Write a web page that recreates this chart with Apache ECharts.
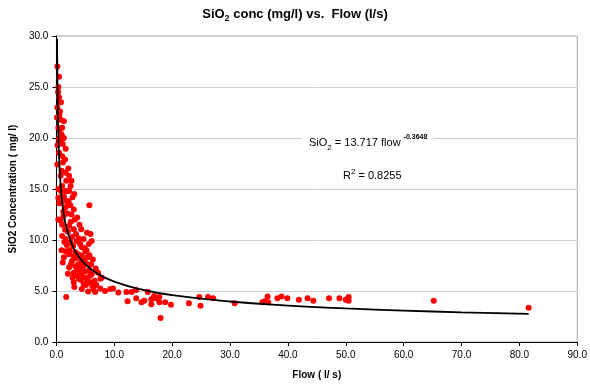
<!DOCTYPE html>
<html>
<head>
<meta charset="utf-8">
<script src="https://cdn.jsdelivr.net/npm/echarts@6/dist/echarts.min.js"></script>
<style>
html,body{margin:0;padding:0;background:#fff;}
#c{width:590px;height:385px;}
</style>
</head>
<body>
<div id="c"></div>
<script>
// Observed samples: flow (l/s) and SiO2 concentration (mg/l)
var flowValues = [
  0.17,0.46,0.34,0.46,0.17,0.63,0.1,0.74,1.3,0.34,1.0,0.9,1.3,0.74,1.6,0.46,1.0,0.17,1.14,2.05,
  1.6,0.74,2.2,1.7,2.45,1.0,1.9,0.34,1.3,0.34,0.74,1.6,2.2,1.9,1.6,3.0,5.7,0.34,0.74,1.0,
  2.2,3.6,3.0,4.3,5.3,5.9,1.0,1.6,3.9,4.7,6.1,5.6,4.1,2.45,1.6,2.2,3.3,4.4,1.3,5.0,
  6.0,2.7,3.75,4.7,2.2,3.0,4.1,5.6,6.1,7.6,5.0,3.9,3.0,4.7,5.85,4.4,6.4,6.7,7.6,7.85,
  1.7,2.6,3.4,2.0,4.9,5.4,3.6,4.3,5.2,2.9,6.3,4.5,5.4,6.6,3.4,1.9,2.8,2.4,1.2,0.5,
  0.2,0.6,0.5,0.85,1.0,
  1.2,2.5,3.2,4.0,1.5,2.7,3.5,4.4,5.2,1.8,2.3,3.0,3.8,4.8,5.7,2.5,3.3,4.0,4.9,5.8,
  2.0,3.5,4.2,5.1,6.2,6.9,2.8,1.4,0.9,1.1,6.8,7.2,3.1,5.5,8.4,1.5,2.1,0.9,1.5,0.4,
  1.1,0.8,0.3,2.6,3.1,
  9.3,9.8,10.7,12.1,13.0,13.8,15.8,12.3,13.8,14.7,15.2,16.4,16.9,17.2,17.8,16.4,17.8,18.8,19.8,18.0,
  22.9,24.7,24.9,26.2,27.1,30.8,35.6,36.0,36.5,36.6,38.2,38.9,39.9,41.9,43.4,44.4,47.1,48.9,50.0,50.5,
  50.5,50.2,65.2,81.6
];
var sio2Values = [
  27.0,26.0,25.0,24.0,23.0,22.6,22.0,21.8,21.65,21.0,21.0,20.35,20.0,19.7,18.95,18.56,18.2,17.4,17.6,17.0,
  16.6,16.3,16.3,15.8,15.3,15.3,14.8,15.0,14.3,14.15,14.8,14.8,14.8,13.7,13.2,13.0,13.4,12.0,11.9,11.5,
  11.4,12.2,11.05,11.05,10.7,10.6,10.4,10.1,10.15,10.1,9.9,9.6,9.6,9.75,8.9,8.6,8.8,8.45,8.3,8.9,
  7.6,7.95,7.6,7.45,7.3,6.8,6.8,7.0,6.65,6.2,6.3,6.2,5.85,5.7,5.85,5.2,5.2,4.9,5.25,6.3,
  4.4,12.5,10.6,10.8,9.2,8.3,7.1,7.9,7.7,9.4,8.1,6.4,6.0,6.0,8.2,12.6,14.2,13.4,12.8,13.6,
  19.3,20.8,22.2,13.7,14.26,
  12.3,11.8,12.0,11.5,11.0,10.3,9.9,9.3,9.0,9.5,9.0,8.4,8.6,8.0,8.5,7.6,7.4,7.2,6.9,6.5,
  6.7,6.5,6.1,5.6,5.5,5.6,6.3,9.8,9.0,7.8,7.2,6.8,5.4,4.95,5.0,13.9,13.8,16.8,17.9,19.9,
  19.4,23.5,24.5,15.8,14.5,
  5.2,5.25,4.85,4.9,4.9,5.1,4.9,4.0,4.3,3.9,4.05,4.2,4.5,4.3,4.4,3.7,3.9,3.9,3.65,2.35,
  3.8,4.4,3.55,4.4,4.3,3.8,3.9,4.0,4.45,3.9,4.3,4.45,4.3,4.15,4.3,4.05,4.3,4.3,4.15,4.4,
  4.05,4.2,4.05,3.36
];
// Power trend line
var trendFlow = [0.12,0.15,0.2,0.25,0.3,0.4,0.5,0.75,1,1.5,2,3,4,5,7,10,15,20,30,40,50,60,70,81.6];
var trendSiO2 = [29.7,27.4,24.7,22.7,21.3,19.2,17.7,15.2,13.7,11.8,10.7,9.19,8.27,7.63,6.74,5.92,5.11,4.60,3.97,3.57,3.29,3.08,2.91,2.75];

var xTicks = {min:0, max:90, interval:10};
var yTicks = {min:0, max:30, interval:5};

var points = flowValues.map(function(f,i){return [f, sio2Values[i]];});
var trend = trendFlow.map(function(f,i){return [f, trendSiO2[i]];});

var chart = echarts.init(document.getElementById('c'), null, {renderer:'canvas'});
var FONT = 'Liberation Sans, Arial, sans-serif';
chart.setOption({
  animation:false,
  backgroundColor:'#ffffff',
  grid:{left:54, right:9, top:36, bottom:42, show:true, borderColor:'#a8a8a8', borderWidth:1, backgroundColor:'transparent'},
  xAxis:{
    type:'value', min:xTicks.min, max:xTicks.max, interval:xTicks.interval,
    name:'Flow ( l/ s)', nameLocation:'middle', nameGap:28,
    nameTextStyle:{fontFamily:FONT, fontSize:10, fontWeight:'bold', color:'#000'},
    axisLine:{show:true, onZero:false, lineStyle:{color:'#000', width:1}},
    axisTick:{show:true, length:4, lineStyle:{color:'#000'}},
    axisLabel:{fontFamily:FONT, fontSize:10, color:'#000', margin:8, formatter:function(v){return v.toFixed(1);}},
    splitLine:{show:false}
  },
  yAxis:{
    type:'value', min:yTicks.min, max:yTicks.max, interval:yTicks.interval,
    name:'SiO2 Concentration ( mg/ l)', nameLocation:'middle', nameGap:38,
    nameTextStyle:{fontFamily:FONT, fontSize:10, fontWeight:'bold', color:'#000'},
    axisLine:{show:true, onZero:false, lineStyle:{color:'#000', width:1}},
    axisTick:{show:true, length:4, lineStyle:{color:'#000'}},
    axisLabel:{fontFamily:FONT, fontSize:10, color:'#000', margin:8, formatter:function(v){return v.toFixed(1);}},
    splitLine:{show:true, lineStyle:{color:'#d0d0d0', width:1}}
  },
  series:[
    {type:'scatter', data:points, symbol:'circle', symbolSize:6, itemStyle:{color:'#ff0000', opacity:1}, z:2},
    {type:'line', data:trend, smooth:true, showSymbol:false, symbol:'none', lineStyle:{color:'#000', width:1.8}, z:3, clip:true}
  ],
  graphic:[
    {type:'text', left:'center', top:8, style:{
      text:'{b|SiO}{s|2}{b| conc (mg/l) vs.  Flow (l/s)}',
      rich:{
        b:{fontFamily:FONT, fontSize:13, fontWeight:'bold', fill:'#000', lineHeight:18, verticalAlign:'middle'},
        s:{fontFamily:FONT, fontSize:9, fontWeight:'bold', fill:'#000', lineHeight:11, verticalAlign:'bottom'}
      }
    }},
    {type:'text', x:302, y:133, z:10, style:{
      text:'{n|SiO}{s|2}{n| = 13.717 flow }{p|-0.3648}',
      backgroundColor:'#ffffff', padding:[1,6,1,7],
      rich:{
        n:{fontFamily:FONT, fontSize:11, fill:'#000', lineHeight:18, verticalAlign:'middle'},
        s:{fontFamily:FONT, fontSize:8, fill:'#000', lineHeight:10, verticalAlign:'bottom'},
        p:{fontFamily:FONT, fontSize:7, fontWeight:'bold', fill:'#000', lineHeight:11, verticalAlign:'top'}
      }
    }},
    {type:'text', x:343, y:168, z:10, style:{
      text:'{n|R}{p|2}{n| = 0.8255}',
      rich:{
        n:{fontFamily:FONT, fontSize:11, fill:'#000', lineHeight:16, verticalAlign:'middle'},
        p:{fontFamily:FONT, fontSize:8, fill:'#000', lineHeight:9, verticalAlign:'top'}
      }
    }}
  ]
});
</script>
</body>
</html>
